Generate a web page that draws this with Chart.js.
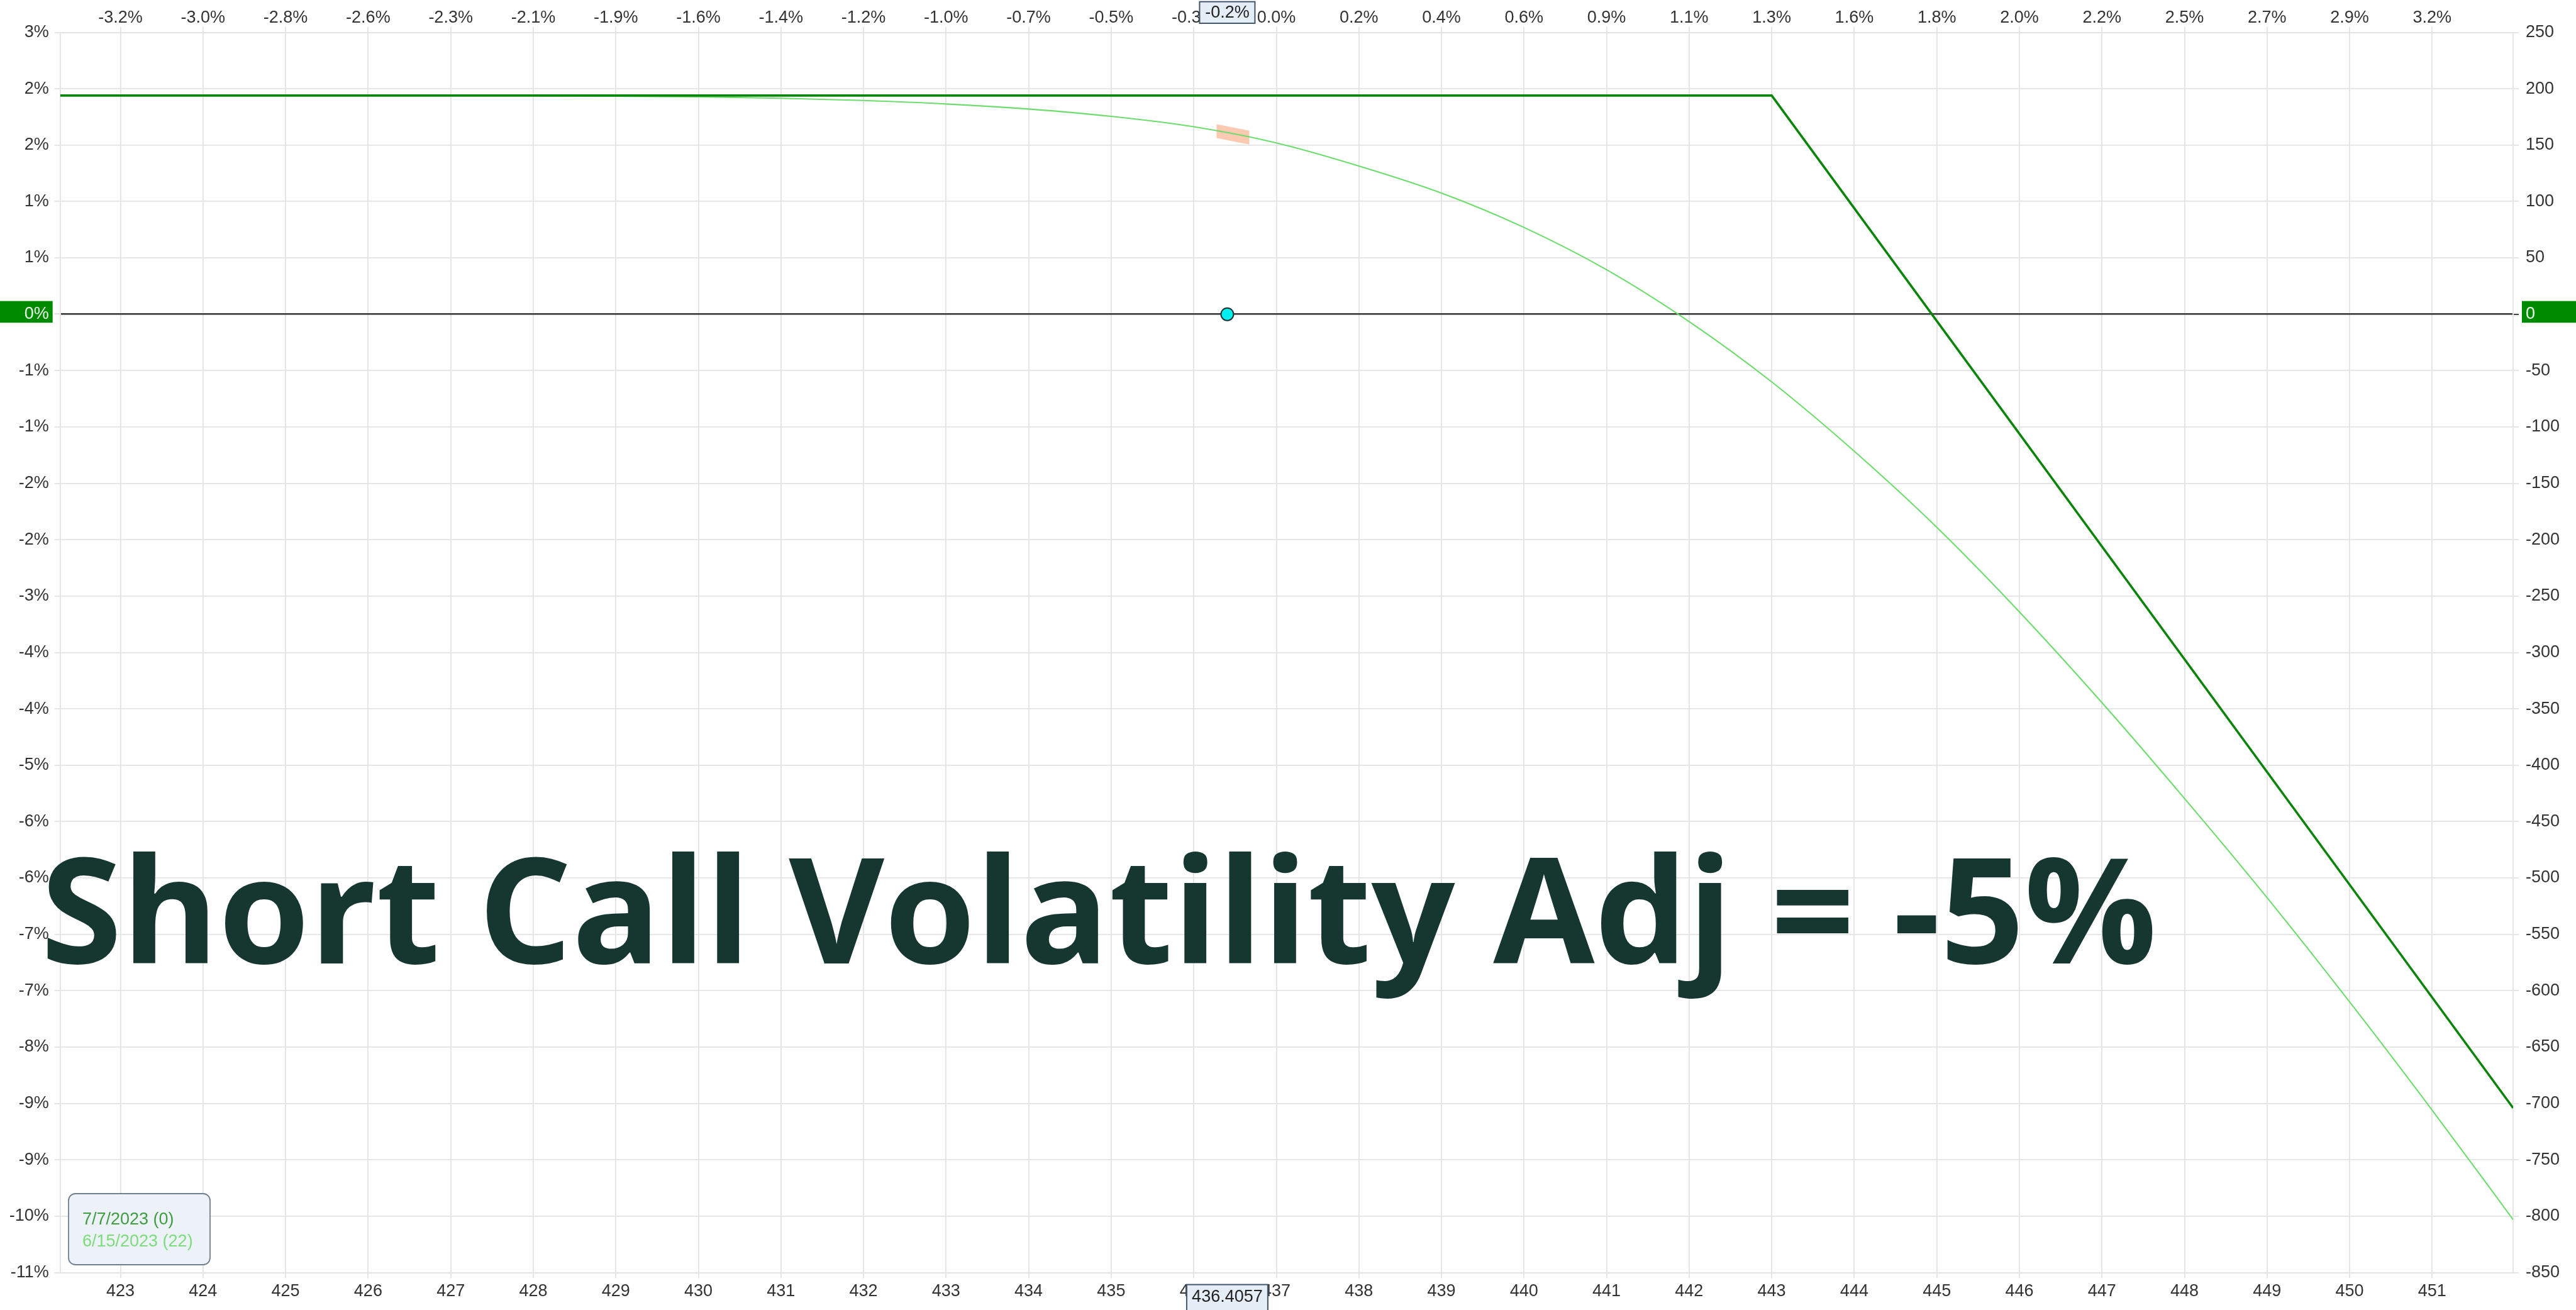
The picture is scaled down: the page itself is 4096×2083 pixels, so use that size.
<!DOCTYPE html>
<html lang="en">

<head>
    <meta charset="UTF-8">
    <title>Short Call Volatility Adj = -5%</title>
    <script src="https://cdn.jsdelivr.net/npm/chart.js"></script>
    <style>
        html, body { margin: 0; padding: 0; background: #fff; }
        .chart-box { width: 4096px; height: 2083px; }
    </style>
</head>

<body>
    <div class="chart-box"><canvas id="pnl"></canvas></div>

    <script>
        // underlying price range and tick labels
        const priceMin = 422.27;
        const priceMax = 451.98;
        const priceTicks = [423, 424, 425, 426, 427, 428, 429, 430, 431, 432, 433, 434, 435, 436, 437,
            438, 439, 440, 441, 442, 443, 444, 445, 446, 447, 448, 449, 450, 451];
        const pctChangeLabels = ['-3.2%', '-3.0%', '-2.8%', '-2.6%', '-2.3%', '-2.1%', '-1.9%', '-1.6%', '-1.4%',
            '-1.2%', '-1.0%', '-0.7%', '-0.5%', '-0.3%', '0.0%', '0.2%', '0.4%', '0.6%', '0.9%', '1.1%', '1.3%',
            '1.6%', '1.8%', '2.0%', '2.2%', '2.5%', '2.7%', '2.9%', '3.2%'];

        // P&L axis ticks (right) and matching % of capital labels (left)
        const pnlTicks = [250, 200, 150, 100, 50, 0, -50, -100, -150, -200, -250, -300, -350, -400, -450,
            -500, -550, -600, -650, -700, -750, -800, -850];
        const pnlPctLabels = ['3%', '2%', '2%', '1%', '1%', '0%', '-1%', '-1%', '-2%', '-2%', '-3%', '-4%', '-4%',
            '-5%', '-6%', '-6%', '-7%', '-7%', '-8%', '-9%', '-9%', '-10%', '-11%'];

        // expiration line 7/7/2023 (0)
        const expiryPrices = [422.27, 443, 451.98];
        const expiryPnl = [194, 194, -704];

        // today line 6/15/2023 (22)
        const todayPrices = [422.27, 423, 424, 425, 426, 427, 428, 429, 430, 431, 432, 433, 434, 435, 436, 437,
            438, 439, 440, 441, 442, 443, 444, 445, 446, 447, 448, 449, 450, 451, 451.98];
        const todayPnl = [194, 194, 194, 194, 194, 193.9, 193.8, 193.4, 192.8, 191.6, 189.6, 186.5, 182, 175.5,
            166.3, 152, 131.5, 107.5, 77, 39.5, -6.5, -60, -121.5, -189, -264, -344.5, -429.5, -517.5, -610,
            -706, -803];

        const currentPrice = 436.4057;
        const currentPctLabel = '-0.2%';
        const titleText = 'Short Call Volatility Adj = -5%';

        const tickFont = { family: '"Liberation Sans", Arial, sans-serif', size: 27 };
        const gridColor = '#e3e3e3';

        const toPoints = (xs, ys) => xs.map((x, i) => ({ x: x, y: ys[i] }));

        // fixed axis box sizes so the plot area sits where it does in the original
        const fitWidth = w => scale => { scale.width = w; };
        const fitHeight = h => scale => { scale.height = h; };

        function roundRect(ctx, x, y, w, h, r) {
            ctx.beginPath();
            ctx.moveTo(x + r, y);
            ctx.arcTo(x + w, y, x + w, y + h, r);
            ctx.arcTo(x + w, y + h, x, y + h, r);
            ctx.arcTo(x, y + h, x, y, r);
            ctx.arcTo(x, y, x + w, y, r);
            ctx.closePath();
        }

        function priceBox(ctx, cx, top, w, h, text, textY) {
            ctx.fillStyle = '#e5edf7';
            ctx.strokeStyle = '#44556a';
            ctx.lineWidth = 2;
            ctx.fillRect(cx - w / 2, top, w, h);
            ctx.strokeRect(cx - w / 2, top, w, h);
            ctx.fillStyle = '#222';
            ctx.font = '27px "Liberation Sans", Arial, sans-serif';
            ctx.textAlign = 'center';
            ctx.textBaseline = 'middle';
            ctx.fillText(text, cx, textY);
        }

        const overlayPlugin = {
            id: 'overlay',
            beforeDraw(chart) {
                const { ctx, chartArea } = chart;
                const y0 = chart.scales.y.getPixelForValue(0);
                ctx.save();
                ctx.fillStyle = '#fff';
                ctx.fillRect(0, 0, chart.width, chart.height);
                // green boxes behind the zero labels
                ctx.fillStyle = '#008a00';
                ctx.fillRect(0, y0 - 21, chartArea.left - 12, 34.5);
                ctx.fillRect(chartArea.right + 14, y0 - 21, chart.width - chartArea.right - 14, 34.5);
                ctx.restore();
            },
            beforeDatasetsDraw(chart) {
                // orange marker on today's curve at the current price
                const { ctx, scales } = chart;
                const i = todayPrices.indexOf(Math.floor(currentPrice));
                const t = (currentPrice - todayPrices[i]) / (todayPrices[i + 1] - todayPrices[i]);
                const v = todayPnl[i] + t * (todayPnl[i + 1] - todayPnl[i]);
                const x1 = scales.x.getPixelForValue(todayPrices[i]);
                const x2 = scales.x.getPixelForValue(todayPrices[i + 1]);
                const y1 = scales.y.getPixelForValue(todayPnl[i]);
                const y2 = scales.y.getPixelForValue(todayPnl[i + 1]);
                const s = (y2 - y1) / (x2 - x1);
                const px = scales.x.getPixelForValue(currentPrice) + 9;
                const py = scales.y.getPixelForValue(v) + 9 * s;
                const hw = 26, hh = 11;
                ctx.save();
                ctx.fillStyle = 'rgba(250, 150, 100, 0.5)';
                ctx.beginPath();
                ctx.moveTo(px - hw, py - hh - hw * s);
                ctx.lineTo(px + hw, py - hh + hw * s);
                ctx.lineTo(px + hw, py + hh + hw * s);
                ctx.lineTo(px - hw, py + hh - hw * s);
                ctx.closePath();
                ctx.fill();
                ctx.restore();
            },
            afterDraw(chart) {
                const { ctx, scales } = chart;
                const px = scales.x.getPixelForValue(currentPrice);
                ctx.save();

                // big title across the plot
                let size = 232;
                ctx.font = 'bold ' + size + 'px "Open Sans", sans-serif';
                size = size * 3365 / ctx.measureText(titleText).width;
                ctx.font = 'bold ' + size.toFixed(1) + 'px "Open Sans", sans-serif';
                ctx.fillStyle = '#163630';
                ctx.textAlign = 'left';
                ctx.textBaseline = 'alphabetic';
                ctx.fillText(titleText, 65, 1532);

                // legend box, bottom left
                const lines = chart.data.datasets.filter(d => d.showInLegend);
                roundRect(ctx, 109, 1898, 225, 113, 11);
                ctx.fillStyle = '#edf1f8';
                ctx.fill();
                ctx.strokeStyle = '#6e7e90';
                ctx.lineWidth = 1.8;
                ctx.stroke();
                ctx.font = '27px "Liberation Sans", Arial, sans-serif';
                ctx.textBaseline = 'middle';
                lines.forEach((d, k) => {
                    ctx.fillStyle = d.legendColor;
                    ctx.fillText(d.label, 131, 1940 + k * 35);
                });

                // current price markers on both x axes
                priceBox(ctx, px, 2.7, 88, 34.3, currentPctLabel, 21);
                priceBox(ctx, px, 2042.6, 129, 45, currentPrice.toFixed(4), 2063);
                ctx.restore();
            }
        };

        new Chart(document.getElementById('pnl'), {
            type: 'line',
            data: {
                datasets: [{
                    type: 'scatter',
                    label: 'current',
                    data: [{ x: currentPrice, y: 0 }],
                    pointRadius: 10,
                    pointBackgroundColor: '#00f0f0',
                    pointBorderColor: '#1e3434',
                    pointBorderWidth: 2
                }, {
                    label: '7/7/2023 (0)',
                    data: toPoints(expiryPrices, expiryPnl),
                    borderColor: '#0a850a',
                    legendColor: '#3f9c41',
                    showInLegend: true,
                    borderWidth: 3.6,
                    pointRadius: 0,
                    tension: 0
                }, {
                    label: '6/15/2023 (22)',
                    data: toPoints(todayPrices, todayPnl),
                    borderColor: '#6cdc6c',
                    legendColor: '#7ddc7d',
                    showInLegend: true,
                    borderWidth: 2.1,
                    pointRadius: 0,
                    cubicInterpolationMode: 'monotone'
                }]
            },
            options: {
                responsive: true,
                maintainAspectRatio: false,
                animation: false,
                devicePixelRatio: 1,
                layout: { padding: 0 },
                plugins: {
                    legend: { display: false },
                    tooltip: { enabled: false }
                },
                scales: {
                    x: {
                        type: 'linear',
                        position: 'bottom',
                        min: priceMin,
                        max: priceMax,
                        afterBuildTicks: s => { s.ticks = priceTicks.map(v => ({ value: v })); },
                        afterFit: fitHeight(59.6),
                        ticks: {
                            font: tickFont, color: '#333', padding: 5, maxRotation: 0, autoSkip: false,
                            callback: v => String(v)
                        },
                        grid: { color: gridColor, lineWidth: 1.8, tickLength: 9 },
                        border: { color: gridColor, width: 1.8 }
                    },
                    x2: {
                        type: 'linear',
                        position: 'top',
                        min: priceMin,
                        max: priceMax,
                        afterBuildTicks: s => { s.ticks = priceTicks.map(v => ({ value: v })); },
                        afterFit: fitHeight(51.5),
                        ticks: {
                            font: Object.assign({ lineHeight: 1 }, tickFont), color: '#333', padding: 0,
                            maxRotation: 0, autoSkip: false,
                            callback: v => pctChangeLabels[priceTicks.indexOf(v)]
                        },
                        grid: { drawOnChartArea: false, color: gridColor, lineWidth: 1.8, tickLength: 9 },
                        border: { color: gridColor, width: 1.8 }
                    },
                    y: {
                        type: 'linear',
                        position: 'right',
                        min: -850,
                        max: 250,
                        afterBuildTicks: s => { s.ticks = pnlTicks.map(v => ({ value: v })); },
                        afterFit: fitWidth(100),
                        ticks: {
                            font: tickFont, padding: 11, autoSkip: false,
                            color: c => c.tick && c.tick.value === 0 ? '#eaffea' : '#333',
                            callback: v => String(v)
                        },
                        grid: {
                            drawOnChartArea: false, lineWidth: 1.8, tickLength: 9,
                            color: c => c.tick && c.tick.value === 0 ? '#333' : gridColor
                        },
                        border: { color: gridColor, width: 1.8 }
                    },
                    y2: {
                        type: 'linear',
                        position: 'left',
                        min: -850,
                        max: 250,
                        afterBuildTicks: s => { s.ticks = pnlTicks.map(v => ({ value: v })); },
                        afterFit: fitWidth(95.7),
                        ticks: {
                            font: tickFont, padding: 9, autoSkip: false,
                            color: c => c.tick && c.tick.value === 0 ? '#eaffea' : '#333',
                            callback: v => pnlPctLabels[pnlTicks.indexOf(v)]
                        },
                        grid: {
                            tickLength: 9,
                            tickColor: gridColor,
                            color: c => c.tick && c.tick.value === 0 ? '#333' : gridColor,
                            lineWidth: c => c.tick && c.tick.value === 0 ? 2.4 : 1.8
                        },
                        border: { color: gridColor, width: 1.8 }
                    }
                }
            },
            plugins: [overlayPlugin]
        });
    </script>
</body>

</html>
